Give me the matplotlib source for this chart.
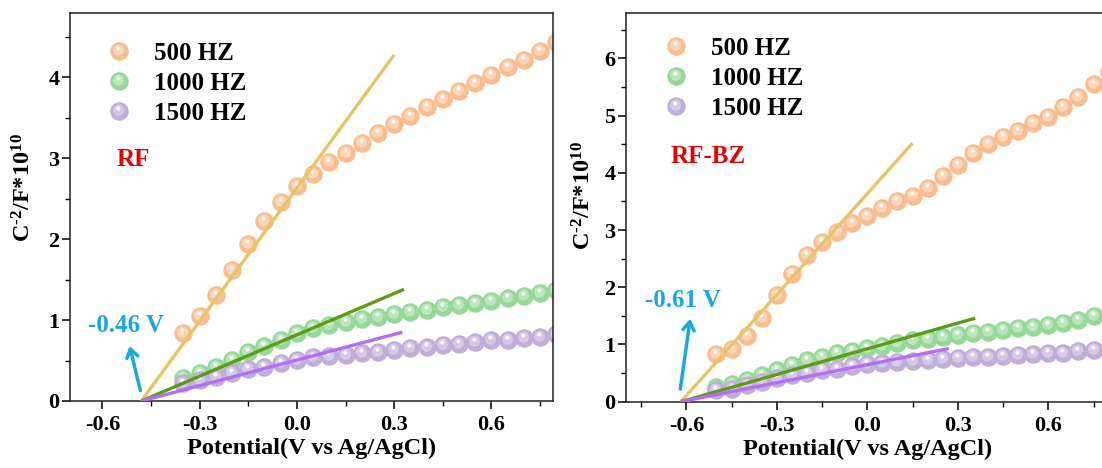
import numpy as np
import matplotlib
matplotlib.use("Agg")
import matplotlib.pyplot as plt
from matplotlib.path import Path
from matplotlib.ticker import MultipleLocator

plt.rcParams["font.family"] = ["Liberation Serif", "DejaVu Serif"]
plt.rcParams["font.weight"] = "bold"
plt.rcParams["mathtext.fontset"] = "custom"
plt.rcParams["mathtext.rm"] = "Liberation Serif:bold"
plt.rcParams["mathtext.it"] = "Liberation Serif:bold:italic"
plt.rcParams["mathtext.bf"] = "Liberation Serif:bold"

# ---- data ----
freq_labels = ["500 HZ", "1000 HZ", "1500 HZ"]

# RF
rf_x = [-0.35, -0.30, -0.25, -0.20, -0.15, -0.10, -0.05, 0.00, 0.05, 0.10, 0.15, 0.20,
        0.25, 0.30, 0.35, 0.40, 0.45, 0.50, 0.55, 0.60, 0.65, 0.70, 0.75, 0.80]
rf_500 = [0.84, 1.05, 1.31, 1.62, 1.94, 2.22, 2.46, 2.66, 2.81, 2.95, 3.06, 3.19,
          3.31, 3.42, 3.52, 3.63, 3.73, 3.83, 3.93, 4.03, 4.13, 4.22, 4.33, 4.44]
rf_1000 = [0.28, 0.34, 0.42, 0.51, 0.60, 0.68, 0.76, 0.84, 0.90, 0.94, 0.98, 1.01,
           1.04, 1.07, 1.10, 1.13, 1.16, 1.19, 1.21, 1.24, 1.27, 1.30, 1.33, 1.37]
rf_1500 = [0.22, 0.26, 0.30, 0.34, 0.40, 0.42, 0.47, 0.51, 0.54, 0.56, 0.57, 0.59,
           0.61, 0.63, 0.65, 0.67, 0.69, 0.71, 0.73, 0.75, 0.76, 0.78, 0.79, 0.83]
rf_fit_500 = ([-0.48, 0.30], [0.0, 4.28])
rf_fit_1000 = ([-0.48, 0.33], [0.0, 1.38])
rf_fit_1500 = ([-0.48, 0.325], [0.0, 0.85])

# RF-BZ
bz_x = [-0.50, -0.45, -0.40, -0.35, -0.30, -0.25, -0.20, -0.15, -0.10, -0.05, 0.00,
        0.05, 0.10, 0.15, 0.20, 0.25, 0.30, 0.35, 0.40, 0.45, 0.50, 0.55, 0.60,
        0.65, 0.70, 0.75, 0.80]
bz_500 = [0.83, 0.92, 1.14, 1.46, 1.87, 2.24, 2.56, 2.80, 2.96, 3.12, 3.25,
          3.38, 3.50, 3.60, 3.73, 3.95, 4.14, 4.34, 4.50, 4.62, 4.74, 4.87, 4.98,
          5.15, 5.33, 5.55, 5.77]
bz_1000 = [0.25, 0.31, 0.38, 0.47, 0.55, 0.64, 0.73, 0.79, 0.85, 0.89, 0.93,
           0.97, 1.02, 1.07, 1.09, 1.13, 1.17, 1.20, 1.22, 1.25, 1.28, 1.31, 1.34,
           1.38, 1.43, 1.49, 1.52]
bz_1500 = [0.20, 0.23, 0.29, 0.35, 0.41, 0.47, 0.51, 0.55, 0.58, 0.62, 0.66,
           0.68, 0.70, 0.72, 0.73, 0.74, 0.76, 0.78, 0.79, 0.80, 0.82, 0.84, 0.85,
           0.86, 0.88, 0.91, 0.93]
bz_fit_500 = ([-0.618, 0.15], [0.0, 4.52])
bz_fit_1000 = ([-0.618, 0.358], [0.0, 1.46])
bz_fit_1500 = ([-0.618, 0.27], [0.0, 0.93])

ball_colors = ["#F9BE8F", "#96D898", "#BEAED9"]
fit_colors = ["#E8C466", "#5C9C16", "#B46EF5"]
blue = "#18A8E4"


def offset_circle(cx, cy, r):
    # circle marker drawn off-centre; the two dummy moveto points fix the scale
    c = Path.circle((cx, cy), r)
    verts = np.vstack([[[0.5, 0.5], [-0.5, -0.5]], c.vertices])
    codes = [Path.MOVETO, Path.MOVETO] + list(c.codes)
    return Path(verts, codes)


mid_marker = offset_circle(-0.05, 0.07, 0.30)
spot_marker = offset_circle(-0.06, 0.16, 0.11)


def lighten(c, f):
    rgb = np.array(matplotlib.colors.to_rgb(c))
    return tuple(rgb + (1 - rgb) * f)


def ball_series(ax, x, y, color, ms=13.3):
    base, = ax.plot(x, y, "o", ms=ms, mfc=color, mew=0, ls="none", zorder=2)
    mid, = ax.plot(x, y, marker=mid_marker, ms=ms, mfc=lighten(color, 0.35), mew=0,
                   ls="none", zorder=2)
    spot, = ax.plot(x, y, marker=spot_marker, ms=ms, mfc="white", mew=0, alpha=0.9,
                    ls="none", zorder=2)
    return (base, mid, spot)


def style_axis(ax, xlim, ylim):
    ax.set_xlim(*xlim)
    ax.set_ylim(*ylim)
    ax.xaxis.set_major_locator(MultipleLocator(0.3))
    ax.xaxis.set_minor_locator(MultipleLocator(0.15))
    ax.yaxis.set_major_locator(MultipleLocator(1))
    ax.yaxis.set_minor_locator(MultipleLocator(0.5))
    ax.xaxis.set_major_formatter(matplotlib.ticker.FormatStrFormatter("%.1f"))
    ax.tick_params(which="major", direction="out", length=6, width=1.1,
                   labelsize=16, top=False, right=False)
    ax.tick_params(axis="x", which="major", pad=4)
    ax.tick_params(axis="y", which="major", pad=1.5)
    ax.tick_params(which="minor", direction="out", length=3.5, width=1.0,
                   top=False, right=False)
    for s in ax.spines.values():
        s.set_linewidth(1.1)
        s.set_color("#222222")
    ax.set_xlabel("Potential(V vs Ag/AgCl)", fontsize=17.5, fontweight="bold",
                  labelpad=2)
    ax.set_ylabel("C$^{\u20102}$/F*10$^{10}$", fontsize=17.5, fontweight="bold")


def panel(ax, x, series, fits, name, name_pos, leg_anchor, vlabel, vpos, arrow):
    handles = []
    for y, c in zip(series, ball_colors):
        handles.append(ball_series(ax, x, y, c))
    for (fx, fy), c in zip(fits, fit_colors):
        ax.plot(fx, fy, color=c, lw=2.4, solid_capstyle="butt", zorder=3)
    ax.legend(handles, freq_labels, loc="upper left", bbox_to_anchor=leg_anchor,
              frameon=False, handlelength=1.0, handletextpad=0.9,
              labelspacing=0.28, borderpad=0, borderaxespad=0,
              prop={"size": 18, "weight": "bold"},
              handler_map={tuple: matplotlib.legend_handler.HandlerTuple(ndivide=1)})
    ax.text(name_pos[0], name_pos[1], name, transform=ax.transAxes, color="#E60000",
            fontsize=18, fontweight="bold", ha="left", va="center")
    ax.text(vpos[0], vpos[1], vlabel, color=blue, fontsize=18, fontweight="bold",
            ha="center", va="center")
    ax.annotate("", xy=arrow[1], xytext=arrow[0],
                arrowprops=dict(arrowstyle="->,head_length=0.6,head_width=0.4",
                                color=blue, lw=2.5, shrinkA=0, shrinkB=0))


fig = plt.figure(figsize=(11.02, 4.68), dpi=100)
ax1 = fig.add_axes([70 / 1102, 1 - 401 / 468, 483 / 1102, 388.3 / 468])
ax2 = fig.add_axes([626 / 1102, 1 - 401.7 / 468, 482.6 / 1102, 389 / 468])

style_axis(ax1, (-0.7, 0.79), (0, 4.8))
style_axis(ax2, (-0.8, 0.8), (0, 6.8))

panel(ax1, rf_x, [rf_500, rf_1000, rf_1500], [rf_fit_500, rf_fit_1000, rf_fit_1500],
      "RF", (0.097, 0.621), (0.076, 0.924), "-0.46 V", (-0.527, 0.93),
      ((-0.483, 0.13), (-0.516, 0.68)))
panel(ax2, bz_x, [bz_500, bz_1000, bz_1500], [bz_fit_500, bz_fit_1000, bz_fit_1500],
      "RF-BZ", (0.093, 0.63), (0.078, 0.937), "-0.61 V", (-0.61, 1.77),
      ((-0.62, 0.22), (-0.587, 1.45)))

ax1.yaxis.set_label_coords(-0.072, 0.55)
ax2.yaxis.set_label_coords(-0.064, 0.53)

fig.savefig("out.png", dpi=100)
